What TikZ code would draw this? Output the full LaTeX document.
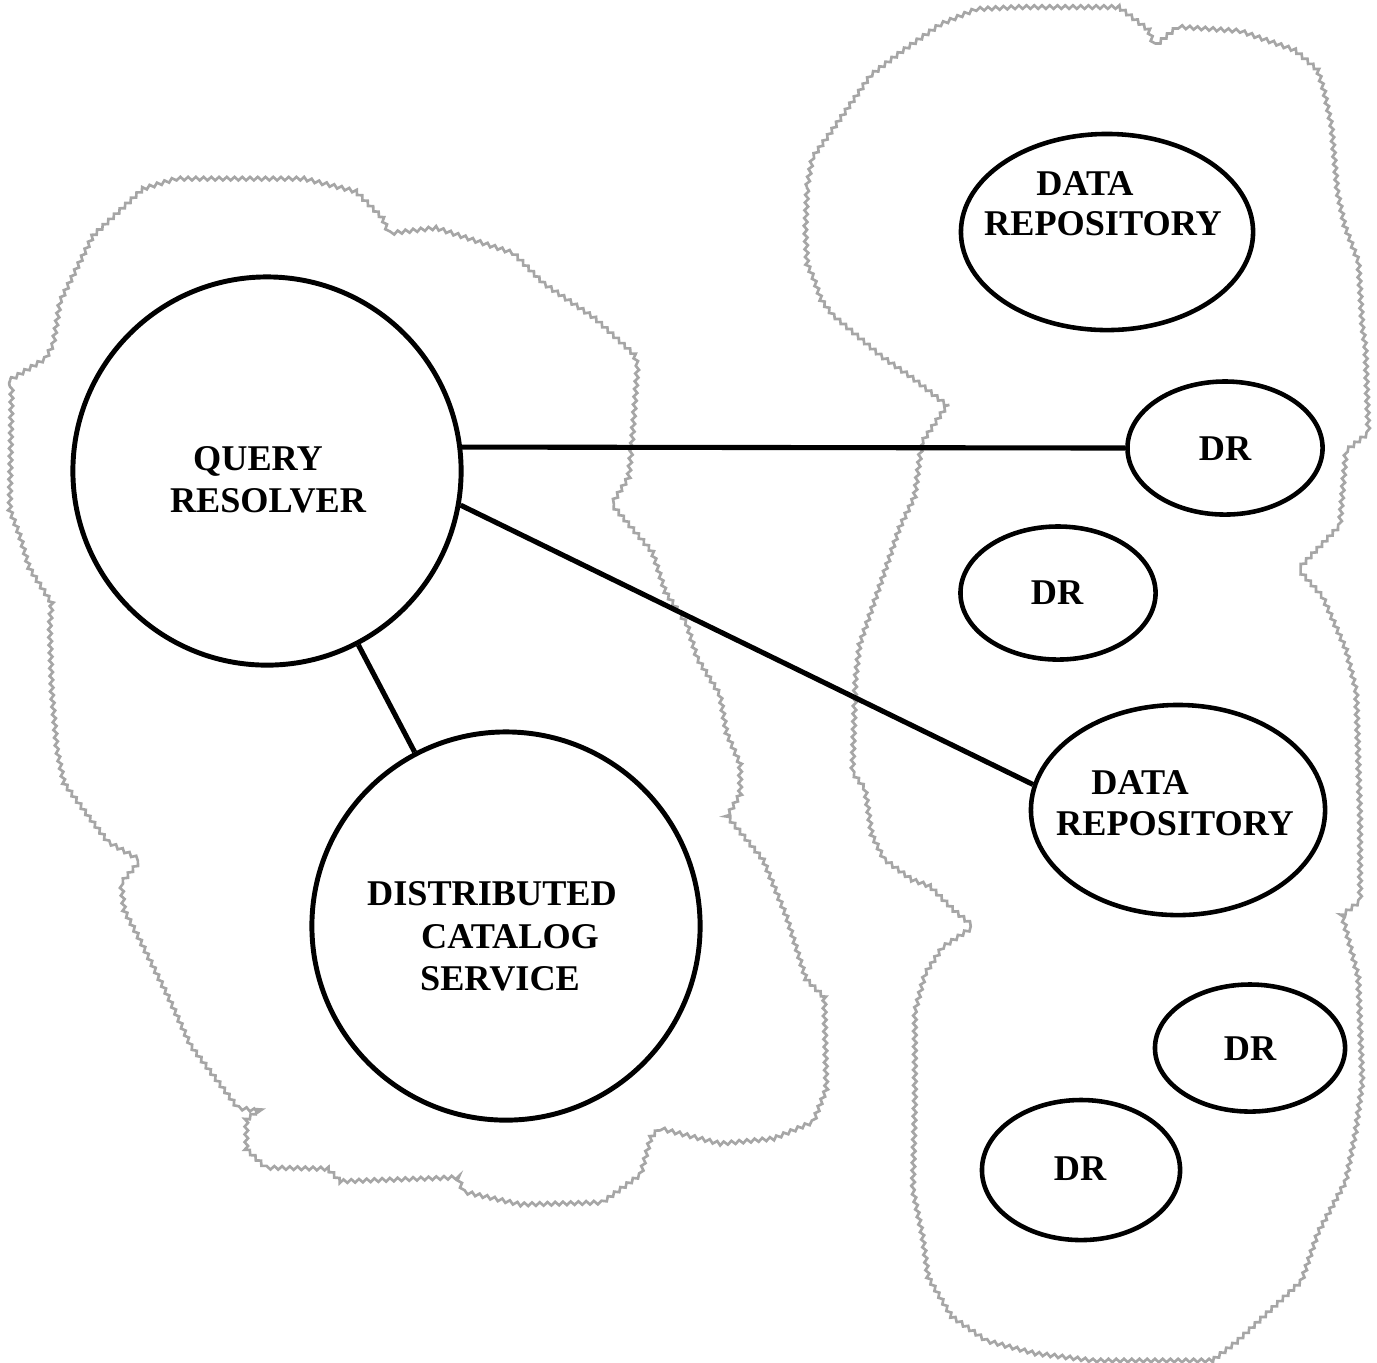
\documentclass[tikz,border=0pt]{standalone}
\usepackage{fontspec}
\setmainfont{Liberation Serif}
\usetikzlibrary{decorations.pathmorphing,shapes.geometric}
\begin{document}
\begin{tikzpicture}[x=0.01cm,y=-0.01cm,
  cloud/.style={draw=gray!70,line width=0.75pt,decorate,
    decoration={snake,amplitude=0.5pt,segment length=2.2pt}},
  bigcirc/.style={draw,circle,line width=1.4pt,inner sep=0pt,minimum size=3.88cm},
  oval/.style={draw,ellipse,line width=1.3pt,inner sep=0pt},
  lbl/.style={anchor=base,inner sep=0pt,font=\fontsize{10.3}{11.5}\selectfont\bfseries},
  link/.style={line width=1.45pt}]
\useasboundingbox (0,0) rectangle (1377,1362);
% clouds
\draw[cloud] (10,380) -- (43,360) -- (50,347) -- (57,303) -- (90,237) -- (140,190) -- (173,180)
 -- (300,180) -- (353,193) -- (380,220) -- (387,237) -- (430,232) -- (507,257) -- (537,287)
 -- (590,323) -- (630,360) -- (633,370) -- (627,453) -- (624,483) -- (607,510) -- (647,557)
 -- (660,597) -- (680,627) -- (690,660) -- (713,697) -- (720,737) -- (733,767) -- (733,800)
 -- (720,822) -- (757,867) -- (780,923) -- (800,987) -- (820,1007) -- (822,1100) -- (810,1130)
 -- (770,1147) -- (717,1152) -- (657,1137) -- (647,1147) -- (637,1183) -- (600,1210)
 -- (517,1212) -- (463,1200) -- (457,1183) -- (337,1187) -- (323,1173) -- (263,1172)
 -- (243,1153) -- (243,1120) -- (258,1108) -- (237,1105) -- (190,1043) -- (167,993)
 -- (137,933) -- (123,907) -- (120,880) -- (137,860) -- (107,843) -- (87,817) -- (62,783)
 -- (55,750) -- (50,693) -- (48,627) -- (50,603) -- (27,567) -- (17,533) -- (8,510) -- cycle;
\draw[cloud] (807,187) -- (812,160) -- (830,135) -- (870,78) -- (900,55) -- (940,27) -- (975,12)
 -- (1017,10) -- (1117,10) -- (1147,33) -- (1153,50) -- (1173,33) -- (1233,37) -- (1290,57)
 -- (1313,77) -- (1320,100) -- (1327,133) -- (1333,200) -- (1340,233) -- (1353,267)
 -- (1357,333) -- (1360,352) -- (1363,440) -- (1343,456) -- (1337,529) -- (1297,571)
 -- (1320,597) -- (1343,649) -- (1353,690) -- (1357,821) -- (1357,899) -- (1337,915)
 -- (1353,977) -- (1357,1081) -- (1350,1133) -- (1340,1183) -- (1313,1233) -- (1297,1280)
 -- (1233,1340) -- (1207,1360) -- (1087,1360) -- (1030,1353) -- (980,1340) -- (947,1317)
 -- (923,1277) -- (917,1233) -- (908,1190) -- (910,1100) -- (910,1010) -- (920,973)
 -- (937,947) -- (967,927) -- (950,913) -- (927,890) -- (907,883) -- (880,863) -- (867,837)
 -- (860,790) -- (850,777) -- (853,683) -- (857,650) -- (880,583) -- (897,533) -- (913,500)
 -- (920,447) -- (947,407) -- (913,380) -- (880,357) -- (833,317) -- (820,300) -- (813,280)
 -- (807,267) -- (805,230) -- cycle;
% nodes
\node[bigcirc] (qr) at (267,471) {};
\node[bigcirc] (dcs) at (506,926) {};
\node[oval,minimum width=2.92cm,minimum height=1.96cm] (dra) at (1107,232) {};
\node[oval,minimum width=1.95cm,minimum height=1.33cm] (dr1) at (1225,448) {};
\node[oval,minimum width=1.95cm,minimum height=1.33cm] (dr2) at (1058,593) {};
\node[oval,minimum width=2.94cm,minimum height=2.10cm] (drb) at (1178,810) {};
\node[oval,minimum width=1.90cm,minimum height=1.27cm] (dr3) at (1250,1048) {};
\node[oval,minimum width=1.98cm,minimum height=1.40cm] (dr4) at (1081,1170) {};
% labels
\node[lbl] (qrA) at (258,470) {QUERY};
\node[lbl] (qrB) at (268,512) {RESOLVER};
\node[lbl] (dcsA) at (492,905) {DISTRIBUTED};
\node[lbl] (dcsB) at (510,948) {CATALOG};
\node[lbl] (dcsC) at (500,990) {SERVICE};
\node[lbl] (draA) at (1085,195) {DATA};
\node[lbl] (draB) at (1103,235) {REPOSITORY};
\node[lbl] (dr1t) at (1225,460) {DR};
\node[lbl] (dr2t) at (1057,604) {DR};
\node[lbl] (drbA) at (1140,794) {DATA};
\node[lbl] (drbB) at (1175,835) {REPOSITORY};
\node[lbl] (dr3t) at (1250,1060) {DR};
\node[lbl] (dr4t) at (1080,1180) {DR};
% connectors
\draw[link] (qr.7) -- (dr1.west);
\draw[link] (qr.-10) -- (drb.170);
\draw[link] (qr) -- (dcs);
\end{tikzpicture}
\end{document}
